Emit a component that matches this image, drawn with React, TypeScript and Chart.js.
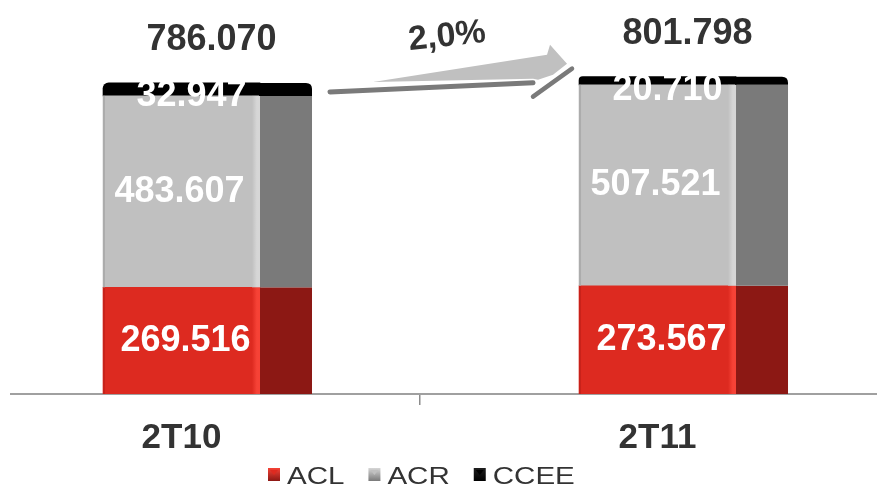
import React, { useEffect, useRef } from 'react';
import { Chart, registerables } from 'chart.js';

Chart.register(...registerables);

const categories = ['2T10', '2T11'];
const seriesNames = ['ACL', 'ACR', 'CCEE'];
const aclValues = [269516, 273567];
const acrValues = [483607, 507521];
const cceeValues = [32947, 20710];
const totalValues = [786070, 801798];

const FONT = '"Liberation Sans", Arial, Helvetica, sans-serif';
const FACE_W = 157;
const SIDE_W = 52;

const faceColors = ['rgb(221,42,32)', 'rgb(192,192,192)', 'rgb(0,0,0)'];
const sideColors = ['rgb(140,24,20)', 'rgb(122,122,122)', 'rgb(0,0,0)'];
const lightColors = ['rgb(246,66,54)', 'rgb(214,214,214)', 'rgb(30,30,30)'];
const edgeColors = ['rgb(200,34,26)', 'rgb(172,172,172)', 'rgb(0,0,0)'];

const fmt = (v: number) => String(v).replace(/\B(?=(\d{3})+(?!\d))/g, '.');

const sidePlugin = {
  id: 'sides',
  afterDatasetsDraw(chart: any) {
    const ctx = chart.ctx;
    ctx.save();
    chart.data.datasets.forEach((_ds: any, d: number) => {
      const meta = chart.getDatasetMeta(d);
      meta.data.forEach((bar: any) => {
        const p = bar.getProps(['x', 'y', 'base', 'width'], true);
        const left = p.x - p.width / 2;
        const right = p.x + p.width / 2;
        const top = Math.min(p.y, p.base);
        const bottom = Math.max(p.y, p.base);
        const h = bottom - top;
        if (d === 2) {
          const r = 6;
          ctx.fillStyle = sideColors[d];
          ctx.beginPath();
          ctx.moveTo(right - 1, bottom);
          ctx.lineTo(right - 1, top);
          ctx.lineTo(right + SIDE_W - r, top);
          ctx.quadraticCurveTo(right + SIDE_W, top, right + SIDE_W, top + r);
          ctx.lineTo(right + SIDE_W, bottom);
          ctx.closePath();
          ctx.fill();
          return;
        }
        ctx.fillStyle = sideColors[d];
        ctx.fillRect(right, top, SIDE_W, h);
        const g = ctx.createLinearGradient(right - 8, 0, right, 0);
        g.addColorStop(0, faceColors[d]);
        g.addColorStop(0.6, lightColors[d]);
        g.addColorStop(1, lightColors[d]);
        ctx.fillStyle = g;
        ctx.fillRect(right - 8, top, 8, h);
        ctx.fillStyle = edgeColors[d];
        ctx.fillRect(left, top, 2, h);
      });
    });
    ctx.restore();
  },
  afterDraw(chart: any) {
    const ctx = chart.ctx;
    const ys = chart.scales.y;
    ctx.save();
    // value labels inside the bars
    ctx.fillStyle = '#ffffff';
    ctx.textAlign = 'center';
    ctx.textBaseline = 'middle';
    ctx.font = `bold 36px ${FONT}`;
    const dx = [4, -2, 10];
    chart.data.datasets.forEach((ds: any, d: number) => {
      const meta = chart.getDatasetMeta(d);
      meta.data.forEach((bar: any, i: number) => {
        const p = bar.getProps(['x', 'y', 'base'], true);
        const top = Math.min(p.y, p.base);
        const bottom = Math.max(p.y, p.base);
        const cy = d === 2 ? top + 13.5 : (top + bottom) / 2;
        ctx.fillText(fmt(ds.data[i].y), p.x + dx[d], cy);
      });
    });
    // totals above the bars
    ctx.fillStyle = '#333333';
    ctx.textBaseline = 'alphabetic';
    const topMeta = chart.getDatasetMeta(2);
    totalValues.forEach((t, i) => {
      const bar = topMeta.data[i];
      const yTop = ys.getPixelForValue(t);
      ctx.fillText(fmt(t), bar.x + 30, yTop - 33);
    });

    // growth arrow between the bars
    const b1 = topMeta.data[0];
    const b2 = topMeta.data[1];
    const r1 = b1.x + FACE_W / 2 + SIDE_W;
    const t1 = ys.getPixelForValue(totalValues[0]);
    const l2 = b2.x - FACE_W / 2;
    const t2 = ys.getPixelForValue(totalValues[1]);

    ctx.fillStyle = 'rgb(192,192,192)';
    ctx.beginPath();
    ctx.moveTo(r1 + 61, t1 - 1);
    ctx.lineTo(l2 - 32, t2 - 22);
    ctx.lineTo(l2 - 29, t2 - 32);
    ctx.lineTo(l2 - 12, t2 - 13);
    ctx.lineTo(l2 - 26, t2 - 2);
    ctx.lineTo(l2 - 41, t2 + 3);
    ctx.lineTo(l2 - 46, t2 + 2);
    ctx.closePath();
    ctx.fill();

    ctx.strokeStyle = 'rgb(122,122,122)';
    ctx.lineCap = 'round';
    ctx.lineWidth = 5;
    ctx.beginPath();
    ctx.moveTo(r1 + 18, t1 + 9);
    ctx.lineTo(l2 - 46, t2 + 6);
    ctx.stroke();
    ctx.lineWidth = 4.5;
    ctx.beginPath();
    ctx.moveTo(l2 - 46, t2 + 20);
    ctx.lineTo(l2 - 7, t2 - 8);
    ctx.stroke();

    const growth = ((totalValues[1] / totalValues[0] - 1) * 100).toFixed(1).replace('.', ',') + '%';
    ctx.save();
    ctx.translate(l2 - 132, t2 - 40);
    ctx.rotate(-6 * Math.PI / 180);
    ctx.fillStyle = '#333333';
    ctx.font = `bold 34px ${FONT}`;
    ctx.textAlign = 'center';
    ctx.textBaseline = 'middle';
    ctx.fillText(growth, 0, 0);
    ctx.restore();

    // legend
    const ca = chart.chartArea;
    let x = ca.left + 257;
    const boxY = 468;
    ctx.textAlign = 'left';
    ctx.textBaseline = 'alphabetic';
    ctx.font = `24px ${FONT}`;
    seriesNames.forEach((name, k) => {
      const g = ctx.createLinearGradient(0, boxY, 0, boxY + 13);
      g.addColorStop(0, lightColors[k]);
      g.addColorStop(1, sideColors[k]);
      ctx.fillStyle = g;
      ctx.fillRect(x, boxY, 12, 13);
      ctx.fillStyle = faceColors[k];
      ctx.beginPath();
      ctx.moveTo(x + 2, boxY + 2);
      ctx.lineTo(x + 10, boxY + 2);
      ctx.lineTo(x + 6, boxY + 7);
      ctx.closePath();
      ctx.fill();
      const tx = x + 19;
      ctx.save();
      ctx.translate(tx, 484);
      ctx.scale(1.23, 1);
      ctx.fillStyle = '#333333';
      ctx.fillText(name, 0, 0);
      ctx.restore();
      const w = ctx.measureText(name).width * 1.23;
      x = tx + w + 24;
    });
    ctx.restore();
  },
};

export default function App() {
  const ref = useRef<HTMLCanvasElement | null>(null);
  useEffect(() => {
    if (!ref.current) return;
    const series = [aclValues, acrValues, cceeValues];
    const chart = new Chart(ref.current, {
      type: 'bar',
      data: {
        datasets: series.map((vals, d) => ({
          label: seriesNames[d],
          data: vals.map((v, i) => ({ x: i, y: v })),
          backgroundColor: faceColors[d],
          borderWidth: 0,
          barThickness: FACE_W,
          borderRadius: d === 2 ? { topLeft: 6, topRight: 0, bottomLeft: 0, bottomRight: 0 } : 0,
          borderSkipped: false,
        })),
      },
      options: {
        animation: false,
        responsive: false,
        maintainAspectRatio: false,
        layout: { padding: { left: 11, right: 0, top: 18, bottom: 16 } },
        plugins: { legend: { display: false }, tooltip: { enabled: false } },
        scales: {
          x: {
            type: 'linear',
            stacked: true,
            offset: false,
            min: -0.3582,
            max: 1.4611,
            afterBuildTicks: (s: any) => {
              s.ticks = [{ value: 0 }, { value: 0.5 }, { value: 1 }];
            },
            ticks: {
              autoSkip: false,
              maxRotation: 0,
              padding: 12,
              color: '#333333',
              font: { family: FONT, size: 35, weight: 'bold' },
              callback: (v: any) => (Number.isInteger(v) ? categories[v] : ''),
            },
            grid: {
              offset: false,
              drawOnChartArea: false,
              drawTicks: true,
              tickLength: 11,
              lineWidth: 1.5,
              color: (c: any) => (c.tick && c.tick.value === 0.5 ? '#8c8c8c' : 'rgba(0,0,0,0)'),
            },
            border: { display: true, color: '#a0a0a0', width: 2 },
          },
          y: { display: false, stacked: true, min: 0, max: 950000 },
        },
      } as any,
      plugins: [sidePlugin],
    });
    return () => chart.destroy();
  }, []);
  return (
    <div style={{ position: 'fixed', left: 0, top: 0, width: 877, height: 487, background: '#fff' }}>
      <canvas ref={ref} width={877} height={487} style={{ width: 877, height: 487, display: 'block' }} />
    </div>
  );
}
